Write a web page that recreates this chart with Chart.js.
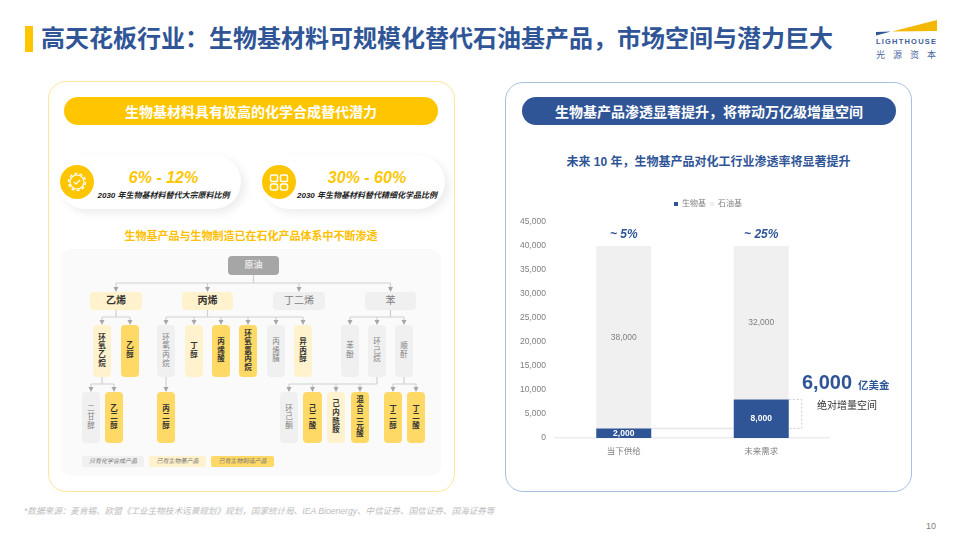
<!DOCTYPE html>
<html lang="zh"><head><meta charset="utf-8">
<script src="https://cdn.jsdelivr.net/npm/chart.js@4"></script>
<style>
html,body{margin:0;padding:0;background:#fff}
body{width:960px;height:540px;position:relative;overflow:hidden;font-family:"Liberation Sans","Noto Sans CJK SC",sans-serif}
.a{position:absolute;box-sizing:border-box}
.c{display:flex;align-items:center;justify-content:center;white-space:nowrap}
.node{border-radius:4px;display:flex;align-items:center;justify-content:center;font-size:7.500px;line-height:8.600px;text-align:center;position:absolute;box-sizing:border-box}
.g{background:#f0f0f0;color:#7f7f7f}.l{background:#fff2cc;color:#333;font-weight:700}.s{background:#ffd966;color:#333;font-weight:700}
svg{position:absolute;left:0;top:0}
</style></head><body>
<div class="a" style="left:25px;top:26px;width:8px;height:26px;background:#ffc600"></div>
<div class="a" id="title" style="left:41px;top:23px;font-size:24px;line-height:32px;font-weight:700;color:#2f5597;white-space:nowrap">高天花板行业：生物基材料可规模化替代石油基产品，市场空间与潜力巨大</div>
<svg width="960" height="80"><polygon points="892,31.5 937,20 937,31" fill="#f5b800"/><polygon points="876,32 891,31.5 876,35.5" fill="#2f5597"/></svg>
<div class="a" style="left:876px;top:37px;font-size:7.5px;line-height:10px;font-weight:700;color:#3f5e9a;letter-spacing:1.200px;white-space:nowrap">LIGHTHOUSE</div>
<div class="a" style="left:876px;top:49px;font-size:9px;line-height:12px;color:#4a669e;letter-spacing:8px;white-space:nowrap">光源资本</div>

<div class="a" style="left:48px;top:81px;width:407px;height:411px;border:1.5px solid #ffe699;border-radius:18px"></div>
<div class="a c" style="left:64px;top:97px;width:374px;height:28px;border-radius:14px;background:#ffc600;color:#fff;font-size:14px;font-weight:700">生物基材料具有极高的化学合成替代潜力</div>

<div class="a" style="left:58px;top:155px;width:183px;height:54px;border-radius:27px;background:#fff;box-shadow:4px 4px 10px rgba(0,0,0,.08)"></div>
<div class="a" style="left:262px;top:155px;width:183px;height:54px;border-radius:27px;background:#fff;box-shadow:4px 4px 10px rgba(0,0,0,.08)"></div>
<svg width="960" height="240">
<circle cx="77" cy="182" r="17" fill="#ffc600"/><circle cx="77" cy="182" r="7" fill="none" stroke="#fff" stroke-width="1.2"/><circle cx="77" cy="182" r="8.500" fill="none" stroke="#fff" stroke-width="1.500" stroke-dasharray="3 2.300"/><path d="M74 182l2 2 4-4" fill="none" stroke="#fff" stroke-width="1.2"/>
<circle cx="279" cy="182" r="17" fill="#ffc600"/>
<g fill="none" stroke="#fff" stroke-width="1.5"><rect x="270.500" y="175" width="7" height="6.500" rx="1.500"/><rect x="280.500" y="175" width="7" height="6.500" rx="1.500"/><rect x="270.500" y="184" width="7" height="6" rx="1.500"/><rect x="280.500" y="184" width="7" height="6" rx="1.500"/></g>
</svg>
<div class="a c" style="left:97px;top:168px;width:133px;height:20px;font-size:16px;font-weight:700;font-style:italic;color:#ffc600">6% - 12%</div>
<div class="a c" style="left:93px;top:188px;width:141px;height:12px;font-size:8px;font-weight:700;font-style:italic;color:#222">2030 年生物基材料替代大宗原料比例</div>
<div class="a c" style="left:296px;top:168px;width:142px;height:20px;font-size:16px;font-weight:700;font-style:italic;color:#ffc600">30% - 60%</div>
<div class="a c" style="left:292px;top:188px;width:150px;height:12px;font-size:8px;font-weight:700;font-style:italic;color:#222">2030 年生物基材料替代精细化学品比例</div>
<div class="a c" style="left:64px;top:227px;width:374px;height:16px;font-size:11px;font-weight:700;color:#ffc000">生物基产品与生物制造已在石化产品体系中不断渗透</div>
<div class="a" style="left:61px;top:249px;width:380px;height:227px;border-radius:10px;background:#fafafa"></div>
<svg id="links" width="960" height="540"></svg>
<div id="nodes"></div>

<div class="a" style="left:505px;top:82px;width:407px;height:410px;border:1.5px solid #a9bee3;border-radius:18px"></div>
<div class="a c" style="left:522px;top:97px;width:374px;height:28px;border-radius:14px;background:#2f5597;color:#fff;font-size:14px;font-weight:700">生物基产品渗透显著提升，将带动万亿级增量空间</div>
<div class="a c" style="left:505px;top:152px;width:407px;height:16px;font-size:12px;font-weight:700;color:#2f5597">未来 10 年，生物基产品对化工行业渗透率将显著提升</div>
<div class="a" style="left:510px;top:190px;width:320px;height:268px"><canvas id="chart" width="320" height="268"></canvas></div>
<div class="a" style="left:802px;top:368px;line-height:28px;white-space:nowrap;color:#2f5597;font-weight:700"><span style="font-size:20px">6,000</span><span style="font-size:10.500px;margin-left:6px">亿美金</span></div>
<div class="a" style="left:817px;top:399px;font-size:10px;line-height:14px;color:#333;white-space:nowrap">绝对增量空间</div>
<div class="a" style="left:24px;top:505px;font-size:8.600px;line-height:12px;font-style:italic;color:#bdbdbd;white-space:nowrap">*数据来源：麦肯锡、欧盟《工业生物技术远景规划》规划，国家统计局、IEA Bioenergy、中信证券、国信证券、国海证券等</div>
<div class="a" style="left:926px;top:520px;font-size:9px;line-height:12px;color:#7f7f7f">10</div>

<script>
const categories = ["当下供给", "未来需求"];
const bioValues = [2000, 8000];
const petroValues = [38000, 32000];
const seriesNames = ["生物基", "石油基"];
const penetration = ["~ 5%", "~ 25%"];
const BLUE = "#2f5597", GREY = "#f0f0f0";

/* process-map diagram (left panel) */
const flowNodes = [
 ["原油",228,256,51,19,"o"],
 ["乙烯",90,292,52,18,"l"],["丙烯",182,292,51,18,"l"],["丁二烯",273,292,52,18,"g"],["苯",365,292,51,18,"g"],
 ["环氧乙烷",93,325,18,52,"l"],["乙醇",121,325,18,52,"s"],["环氧丙烷",157,325,18,52,"g"],["丁醇",185,325,18,52,"l"],
 ["丙烯酸",212,325,18,52,"s"],["环氧氯丙烷",239,325,18,52,"s"],["丙烯腈",267,325,18,52,"g"],["异丙醇",294,325,18,52,"l"],
 ["苯酚",341,325,18,52,"g"],["环己烷",368,325,18,52,"g"],["顺酐",395,325,18,52,"g"],
 ["二甘醇",82,392,18,51,"g"],["乙二醇",105,392,18,51,"s"],["丙二醇",157,392,18,51,"s"],["环己酮",280,392,18,51,"g"],
 ["己二酸",303,392,19,51,"s"],["己内酰胺",327,392,18,51,"l"],["混合二元酸",351,392,18,51,"s"],["丁二醇",384,392,18,51,"s"],["丁二酸",407,392,18,51,"s"]
];
const flowKeys = [["只有化学合成产品",82,62,"g"],["已有生物基产品",149,57,"l"],["已有生物制造产品",211,63,"s"]];
const flowBranches = [
 [253.5,275,283,[116,207.5,299,390.5],292],
 [116,310,317,[102,130],325],
 [207.5,310,317,[166,194,221,248,276,303],325],
 [390.5,310,317,[350,377,404],325],
 [102,377,384,[91,114],392],
 [166,377,384,[166],392],
 [377,377,384,[289,312.500,336,360],392],
 [404,377,384,[393,416],392]
];
let html = "";
for (const [t,x,y,w,h,k] of flowNodes) {
  const vert = h > w;
  const txt = vert ? t.split("").join("<br>") : t;
  const extra = k === "o" ? "background:#a6a6a6;color:#e8e8e8;font-weight:700;font-size:9px;" : (!vert ? "font-size:10px;line-height:12px;" : "");
  html += `<div class="node ${k==="o"?"":k}" style="left:${x}px;top:${y}px;width:${w}px;height:${h}px;${extra}">${txt}</div>`;
}
for (const [t,x,w,k] of flowKeys) {
  html += `<div class="node ${k}" style="left:${x}px;top:456px;width:${w}px;height:11px;font-size:6px;line-height:11px;font-weight:400;font-style:italic;color:#777;border-radius:2px">${t}</div>`;
}
document.getElementById("nodes").innerHTML = html;
let svg = "";
for (const [px,y0,ym,kids,y1] of flowBranches) {
  const xs = kids.concat([px]);
  svg += `<path d="M${px} ${y0}V${ym}M${Math.min(...xs)} ${ym}H${Math.max(...xs)}" stroke="#d0d0d0" stroke-width="1.2" fill="none"/>`;
  for (const k of kids) {
    svg += `<path d="M${k} ${ym}V${y1-4}" stroke="#d0d0d0" stroke-width="1.2"/><polygon points="${k-2.5},${y1-5} ${k+2.5},${y1-5} ${k},${y1}" fill="#a6a6a6"/>`;
  }
}
document.getElementById("links").innerHTML = svg;

/* value labels, penetration labels and connector lines placed through the chart's scales */
const overlay = {
  id: "overlay",
  afterLayout(chart) {
    chart.legend.left += 38; chart.legend.right += 38;
    chart.legend.top -= 4; chart.legend.bottom -= 4;
  },
  beforeDatasetsDraw(chart) {
    const {ctx} = chart, y = chart.scales.y;
    const a = chart.getDatasetMeta(0).data, yLow = y.getPixelForValue(bioValues[0]);
    ctx.save();
    ctx.strokeStyle = "#e6e6e6"; ctx.lineWidth = 1.5;
    ctx.beginPath(); ctx.moveTo(a[0].x, yLow); ctx.lineTo(a[1].x, yLow); ctx.stroke();
    ctx.restore();
  },
  afterDatasetsDraw(chart) {
    const {ctx} = chart, y = chart.scales.y;
    const bio = chart.getDatasetMeta(0).data, pet = chart.getDatasetMeta(1).data;
    ctx.save();
    ctx.textAlign = "center"; ctx.textBaseline = "middle";
    const f = '"Liberation Sans","Noto Sans CJK SC",sans-serif';
    categories.forEach((c, i) => {
      ctx.font = "bold 8.5px " + f; ctx.fillStyle = "#fff";
      ctx.fillText(bioValues[i].toLocaleString("en-US"), bio[i].x, y.getPixelForValue(bioValues[i] / 2));
      ctx.font = "8.5px " + f; ctx.fillStyle = "#7f7f7f";
      ctx.fillText(petroValues[i].toLocaleString("en-US"), pet[i].x, y.getPixelForValue(bioValues[i] + petroValues[i] / 2));
      ctx.font = "italic bold 12px " + f; ctx.fillStyle = BLUE;
      ctx.fillText(penetration[i], pet[i].x, pet[i].y - 11);
    });
    const right = bio[1].x + bio[1].width / 2;
    ctx.strokeStyle = "#c8c8c8"; ctx.lineWidth = 1; ctx.setLineDash([2, 2]);
    ctx.beginPath();
    ctx.moveTo(right, y.getPixelForValue(bioValues[1]));
    ctx.lineTo(right + 13, y.getPixelForValue(bioValues[1]));
    ctx.lineTo(right + 13, y.getPixelForValue(bioValues[0]));
    ctx.lineTo(right, y.getPixelForValue(bioValues[0]));
    ctx.stroke();
    ctx.restore();
  }
};
const tickFont = {family:'"Liberation Sans","Noto Sans CJK SC",sans-serif', size:8.5};
new Chart(document.getElementById("chart"), {
  type: "bar",
  data: { labels: categories, datasets: [
    {label: seriesNames[0], data: bioValues, backgroundColor: BLUE, barPercentage: 0.4, categoryPercentage: 1},
    {label: seriesNames[1], data: petroValues, backgroundColor: GREY, barPercentage: 0.4, categoryPercentage: 1}
  ]},
  options: {
    responsive: false, animation: false, devicePixelRatio: 1,
    layout: {padding: {top: 10, left: 0, right: 0, bottom: 0}},
    plugins: {
      tooltip: {enabled: false},
      title: {display: false},
      legend: {position: "top", labels: {boxWidth: 4, boxHeight: 4, padding: 4, color: "#7f7f7f", font: {family: tickFont.family, size: 8}}}
    },
    scales: {
      x: {stacked: true, grid: {display: false, drawTicks: false}, border: {color: "#ececec", width: 1.5},
          ticks: {color: "#7f7f7f", font: tickFont, padding: 9}, afterFit(s){ s.height = 20; }},
      y: {stacked: true, min: 0, max: 45000, grid: {display: false, drawTicks: false}, border: {display: false},
          ticks: {stepSize: 5000, color: "#7f7f7f", font: tickFont, padding: 9, callback: v => v.toLocaleString("en-US")},
          afterFit(s){ s.width = 45; }}
    }
  },
  plugins: [overlay]
});
</script>
</body></html>
